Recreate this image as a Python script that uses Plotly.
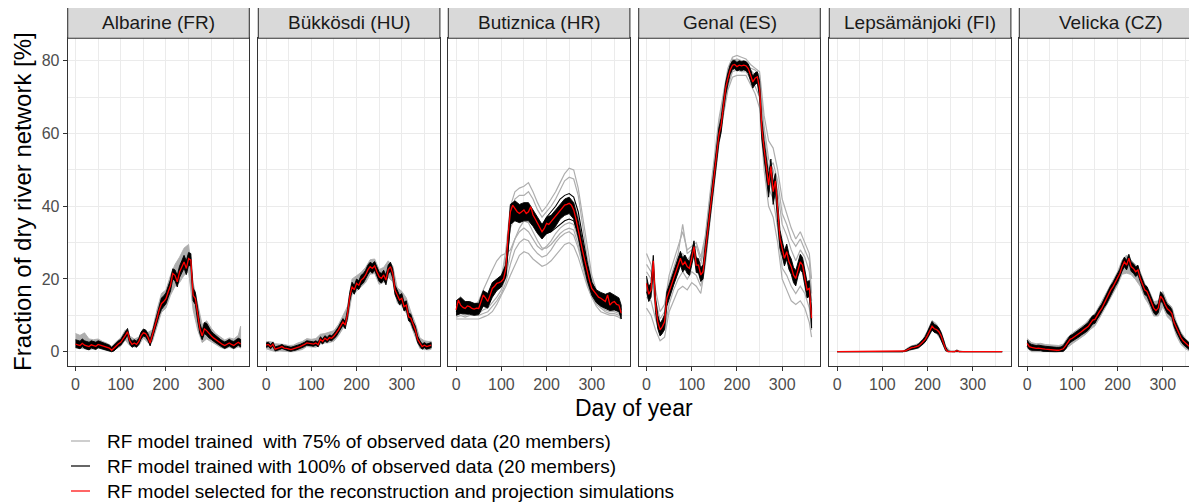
import plotly.graph_objects as go

# The page body adds an 8 px margin; the figure is sized and laid out so that
# the visible page matches the 1197x503 reference.
PAGE_W, PAGE_H = 1197, 503
OFF = 8
W, H = PAGE_W - OFF, PAGE_H - OFF
FONT = "Liberation Sans, Arial, Helvetica, sans-serif"

# ---------------- data ----------------
RIVERS = ["Albarine (FR)", "Bükkösdi (HU)", "Butiznica (HR)",
          "Genal (ES)", "Lepsämänjoki (FI)", "Velicka (CZ)"]
X_TICKS = [0, 100, 200, 300]
X_MINOR = [50, 150, 250, 350]
Y_TICKS = [0, 20, 40, 60, 80]
Y_MINOR = [10, 30, 50, 70]
LEGEND_LABELS = [
    "RF model trained  with 75% of observed data (20 members)",
    "RF model trained with 100% of observed data (20 members)",
    "RF model selected for the reconstruction and projection simulations",
]
X_TITLE = "Day of year"
Y_TITLE = "Fraction of dry river network [%]"

DAYS5 = list(range(0, 361, 5)) + [365]
DAYS10 = list(range(0, 361, 10)) + [365]

# ---- Albarine ----
ALB_RED = [2.1, 1.9, 1.7, 2.3, 1.8, 1.6, 1.4, 1.9, 1.7, 1.5,
           2.0, 1.8, 1.5, 1.3, 1.2, 1.0, 0.4, 1.0, 1.7, 2.2,
           2.6, 3.4, 4.4, 5.5, 3.0, 2.0, 2.4, 2.0, 2.8, 4.4,
           5.2, 5.0, 4.0, 2.4, 4.4, 6.8, 9.0, 11.5, 13.2, 13.8,
           14.6, 16.5, 18.2, 21.5, 21.0, 19.2, 21.9, 23.3, 24.7, 22.9,
           25.6, 25.2, 15.5, 14.6, 10.0, 6.3, 4.4, 6.3, 5.8, 5.0,
           4.4, 3.8, 3.3, 2.8, 2.4, 2.0, 1.7, 2.0, 2.4, 2.0,
           1.7, 2.2, 2.6, 2.1]
ALB_BLK_HI = [3.3, 3.1, 2.9, 3.5, 3.0, 2.8, 2.6, 3.0, 2.8, 2.6,
              3.0, 2.8, 2.4, 2.2, 2.0, 1.8, 1.2, 1.8, 2.5, 3.0,
              3.4, 4.3, 5.4, 6.4, 3.9, 2.9, 3.3, 2.9, 3.7, 5.4,
              6.2, 6.0, 5.0, 3.4, 5.5, 8.0, 10.4, 13.0, 14.8, 15.3,
              16.2, 18.0, 19.8, 22.8, 22.5, 21.0, 23.5, 25.0, 26.5, 25.0,
              27.3, 27.0, 17.5, 16.3, 11.8, 7.8, 5.8, 8.0, 7.8, 6.5,
              5.6, 5.0, 4.4, 3.9, 3.4, 3.0, 2.7, 3.0, 3.4, 3.0,
              2.8, 3.3, 3.7, 3.4]
ALB_BLK_LO = [1.2, 1.0, 0.8, 1.4, 0.9, 0.7, 0.5, 1.0, 0.8, 0.6,
              1.1, 0.9, 0.6, 0.4, 0.3, 0.2, 0.0, 0.2, 0.9, 1.4,
              1.8, 2.6, 3.5, 4.6, 2.1, 1.2, 1.6, 1.2, 2.0, 3.5,
              4.3, 4.1, 3.1, 1.6, 3.4, 5.6, 7.8, 10.0, 11.6, 12.4,
              13.2, 15.0, 16.7, 20.0, 19.5, 17.8, 20.4, 21.8, 23.0, 21.2,
              23.8, 23.5, 14.0, 13.0, 8.5, 5.0, 3.3, 5.0, 4.5, 3.8,
              3.4, 2.9, 2.4, 1.9, 1.6, 1.2, 0.9, 1.2, 1.6, 1.2,
              0.9, 1.4, 1.8, 1.3]
ALB_GRY_HI = [5.0, 4.5, 5.2, 3.5, 3.3, 3.5, 2.8, 2.3, 1.5, 2.8, 3.8, 6.0, 4.3,
              3.5, 4.0, 6.3, 5.3, 6.0, 11.5, 16.0, 17.0, 21.0, 24.0, 26.0,
              28.5, 29.5, 19.0, 13.5, 7.5, 8.5, 6.5, 5.0, 4.0, 3.2, 3.8, 3.5,
              4.5, 7.0]
ALB_GRY_LO = [1.0, 0.8, 0.8, 0.6, 0.8, 1.0, 0.6, 0.3, 0.0, 0.8, 1.5, 3.2, 1.7,
              1.3, 1.7, 3.8, 2.5, 2.8, 6.8, 10.8, 12.0, 15.5, 18.0, 19.0,
              21.0, 22.0, 11.5, 6.0, 2.5, 3.5, 2.8, 2.0, 1.2, 0.8, 1.2, 0.8,
              1.3, 1.0]

# ---- Bükkösdi ----
BUK_RED = [1.8, 2.0, 1.4, 2.1, 0.7, 0.8, 1.1, 1.4, 1.0, 0.9,
           0.7, 0.6, 0.8, 0.9, 1.2, 1.4, 1.6, 2.0, 2.4, 2.3,
           2.2, 2.1, 2.4, 1.9, 3.4, 2.8, 3.7, 3.2, 3.9, 3.7,
           4.3, 5.0, 6.0, 7.1, 8.2, 7.3, 10.5, 15.1, 17.9, 17.0,
           18.8, 18.3, 19.7, 20.2, 21.1, 22.5, 23.4, 22.9, 23.6, 22.0,
           20.6, 20.2, 21.1, 19.7, 22.6, 23.4, 21.5, 17.0, 15.6, 14.2,
           14.7, 12.4, 12.8, 9.6, 9.2, 7.3, 6.0, 3.4, 2.3, 1.4,
           1.8, 1.4, 1.6, 1.8]
BUK_BLK_HI = [2.4, 2.6, 2.0, 2.7, 1.3, 1.4, 1.7, 2.0, 1.6, 1.5,
              1.3, 1.2, 1.4, 1.5, 1.8, 2.0, 2.2, 2.6, 3.0, 2.9,
              2.8, 2.7, 3.0, 2.6, 4.1, 3.5, 4.4, 3.9, 4.6, 4.4,
              5.0, 5.8, 6.8, 8.0, 9.1, 8.3, 11.6, 16.3, 19.1, 18.2,
              20.0, 19.5, 21.0, 21.5, 22.4, 23.8, 24.6, 24.2, 24.8, 23.3,
              21.9, 21.5, 22.4, 21.0, 23.8, 24.6, 22.8, 18.3, 16.9, 15.5,
              16.0, 13.6, 14.0, 10.7, 10.3, 8.3, 7.0, 4.3, 3.1, 2.1,
              2.5, 2.1, 2.3, 2.5]
BUK_BLK_LO = [1.2, 1.4, 0.8, 1.5, 0.2, 0.3, 0.6, 0.9, 0.5, 0.4,
              0.2, 0.1, 0.3, 0.4, 0.7, 0.9, 1.1, 1.4, 1.8, 1.7,
              1.6, 1.5, 1.8, 1.3, 2.7, 2.1, 3.0, 2.5, 3.2, 3.0,
              3.6, 4.2, 5.2, 6.2, 7.3, 6.3, 9.4, 13.9, 16.7, 15.8,
              17.6, 17.1, 18.4, 18.9, 19.8, 21.2, 22.2, 21.6, 22.4, 20.7,
              19.3, 18.9, 19.8, 18.4, 21.4, 22.2, 20.2, 15.7, 14.3, 12.9,
              13.4, 11.2, 11.6, 8.5, 8.1, 6.3, 5.0, 2.5, 1.5, 0.7,
              1.1, 0.7, 0.9, 1.1]
BUK_GRY_HI = [2.8, 2.8, 2.2, 2.2, 2.0, 1.7, 1.8, 2.4, 2.8, 3.6, 3.4, 3.6, 4.8,
              5.0, 5.3, 5.8, 7.5, 9.8, 12.5, 20.0, 20.8, 21.8, 23.2, 25.3,
              25.5, 22.6, 23.2, 25.0, 23.6, 17.6, 16.6, 14.8, 11.0, 7.8, 3.8,
              3.0, 2.8, 2.9]
BUK_GRY_LO = [0.8, 0.4, 0.0, 0.2, 0.1, 0.0, 0.0, 0.3, 0.6, 1.4, 1.2, 1.2, 2.1,
              2.4, 2.5, 2.9, 4.4, 6.4, 8.4, 15.7, 16.6, 17.7, 19.0, 21.3,
              21.5, 18.5, 19.1, 20.5, 19.2, 13.4, 12.6, 10.6, 7.2, 4.0, 0.9,
              0.6, 0.5, 0.7]

# ---- Butiznica ----
BUT_RED = [11.5, 14.2, 12.8, 12.2, 11.9, 12.6, 12.4, 11.9, 11.7, 12.0,
           11.9, 13.5, 15.6, 14.8, 13.8, 15.5, 17.4, 18.0, 18.8, 19.0,
           19.3, 20.0, 22.9, 32.1, 38.5, 40.3, 39.4, 38.5, 38.0, 38.5,
           39.0, 38.0, 38.5, 39.9, 37.6, 36.5, 35.3, 34.0, 33.0, 33.9,
           35.3, 35.0, 35.8, 36.5, 37.1, 38.0, 39.0, 39.8, 40.3, 40.5,
           40.8, 40.3, 39.0, 36.5, 33.9, 30.5, 27.5, 24.5, 22.0, 19.5,
           17.4, 16.5, 15.6, 15.0, 14.7, 14.2, 13.8, 15.6, 12.8, 13.5,
           13.8, 13.0, 12.8, 10.6]
BUT_BLK_HI = [14.0, 15.0, 13.8, 13.8, 13.3, 13.3, 16.8, 16.0, 19.0, 20.0,
              21.0, 24.0, 40.5, 41.5, 40.5, 41.0, 41.0, 39.0, 37.0, 35.0,
              37.0, 37.5, 39.0, 40.5, 42.0, 42.5, 41.0, 36.0, 29.5, 24.0,
              19.0, 17.0, 16.3, 15.8, 16.3, 15.5, 14.8, 12.8]
BUT_BLK_LO = [10.0, 10.5, 10.3, 10.3, 10.0, 10.2, 12.5, 12.0, 15.0, 16.8,
              17.8, 20.5, 35.0, 36.0, 35.5, 36.0, 36.0, 34.5, 32.5, 31.0,
              32.5, 33.0, 34.5, 36.5, 37.5, 38.0, 36.5, 31.5, 25.0, 19.5,
              15.5, 13.5, 12.5, 12.0, 11.3, 11.5, 11.0, 9.0]
BUT_BLK_A = [12.5, 13.5, 12.5, 13.0, 12.5, 12.5, 15.5, 14.5, 18.0, 19.5,
             20.5, 23.5, 38.5, 40.0, 39.0, 40.0, 39.5, 38.0, 36.5, 34.5,
             37.0, 38.5, 40.0, 42.0, 43.0, 43.5, 42.5, 38.5, 31.0, 24.5,
             19.0, 16.5, 15.5, 15.0, 14.0, 14.5, 13.5, 11.5]
BUT_BLK_B = [11.0, 12.0, 11.5, 12.0, 11.0, 11.5, 14.0, 13.0, 16.0, 18.0,
             18.5, 21.0, 35.5, 36.5, 36.0, 36.5, 36.5, 35.0, 33.0, 31.5,
             32.5, 33.0, 34.0, 35.0, 36.0, 36.5, 36.0, 32.5, 26.5, 21.0,
             16.5, 14.5, 13.5, 13.0, 12.0, 12.5, 11.5, 10.0]
BUT_GRY_1 = [10, 11, 10.5, 11, 11, 11.5, 13, 13, 15, 17, 20, 28, 40, 44, 45,
             45.5, 46.5, 44, 41, 38.5, 40, 42, 44, 46.5, 49, 50.5, 50, 45, 37,
             28, 21, 17, 15, 14, 13, 13, 12, 11]
BUT_GRY_2 = [10.5, 11.5, 11, 11.5, 11.5, 12, 13.5, 14, 16, 18, 20.5, 26, 37,
             42, 43, 43, 44, 42, 39, 37, 38.5, 40, 42, 44.5, 47, 48, 47.5, 43,
             35, 26, 20, 16.5, 15, 14, 13.5, 13, 12.5, 11]
BUT_GRY_3 = [11, 12, 11.5, 12, 11.5, 12, 14, 14, 16.5, 18, 20, 25, 34, 37, 38,
             38.5, 38, 36, 34, 32, 33, 34.5, 36.5, 38.5, 40, 41.5, 41, 37, 30,
             23, 18, 15.5, 14.5, 13.5, 13, 13, 12.5, 10.5]
BUT_GRY_4 = [11, 11.5, 11, 11.5, 12.5, 14, 17, 20, 22.5, 25, 26.5, 27, 28, 31,
             34, 36, 35.5, 33, 30.5, 28.5, 28.5, 29.5, 31, 32.5, 33.5, 34,
             33.5, 29.5, 24, 19, 15.5, 13.5, 12.5, 12, 11.5, 11.5, 11, 10]
BUT_GRY_5 = [9, 9, 9, 9, 9, 9, 9.5, 10, 11, 13, 15.5, 18, 21, 24, 26.5, 27.5,
             27, 25.5, 24.5, 23.5, 24, 25, 26.5, 28, 29.5, 30, 29, 26, 22, 18,
             15, 12.5, 11, 10.5, 10, 10, 9.5, 9]
BUT_GRY_6 = [9.5, 10, 9.5, 10, 10, 10, 10.5, 11, 12.5, 14, 16, 19, 24, 28, 30,
             31, 30.5, 28.5, 27, 26, 26.5, 28, 30, 31.5, 32.5, 33, 32, 28.5,
             23.5, 18.5, 15, 13, 12, 11, 10.5, 10.5, 10, 9.5]
BUT_GRY_7 = [10, 10.5, 10, 10.5, 10.5, 10.5, 11.5, 12, 13.5, 15, 17, 20.5, 27,
             31, 33, 34, 33, 31, 29, 28, 29, 30.5, 32.5, 34, 35, 35.5, 35, 31,
             25.5, 20, 16, 13.5, 12.5, 11.5, 11, 11, 10.5, 9.5]

# ---- Genal ----
GEN_RED = [18.8, 15.8, 17.0, 25.0, 12.8, 8.2, 6.0, 6.9, 8.2, 14.7,
           16.5, 18.3, 20.2, 22.0, 23.8, 25.7, 23.8, 24.7, 23.4, 22.9,
           25.7, 28.9, 23.8, 23.8, 21.1, 22.0, 27.5, 33.0, 38.5, 44.0,
           49.5, 54.1, 59.6, 62.3, 67.8, 72.4, 75.2, 77.5, 78.8, 79.0,
           78.4, 78.8, 78.6, 78.8, 78.6, 77.9, 76.1, 74.2, 75.2, 75.6,
           72.4, 61.4, 55.9, 51.3, 45.8, 51.0, 44.0, 47.0, 38.5, 31.2,
           28.4, 25.7, 27.5, 24.7, 23.4, 21.1, 20.2, 22.9, 24.7, 23.8,
           20.2, 17.0, 17.4, 9.2]
GEN_BLK_HI = [20.8, 17.8, 19.0, 26.5, 15.0, 10.0, 7.8, 8.8, 10.2, 16.5,
              18.3, 20.2, 22.0, 24.0, 25.8, 27.6, 25.8, 26.6, 25.4, 24.8,
              27.6, 30.5, 25.8, 25.6, 23.0, 24.0, 29.5, 35.0, 40.5, 46.0,
              51.5, 56.0, 61.5, 64.3, 69.6, 74.0, 76.7, 78.9, 80.0, 80.1,
              79.6, 80.0, 79.8, 80.0, 79.8, 79.2, 77.6, 75.8, 76.7, 77.0,
              74.5, 64.0, 58.0, 53.5, 48.5, 53.0, 46.5, 49.0, 41.0, 33.5,
              30.5, 27.8, 29.6, 26.8, 25.5, 23.2, 22.3, 25.0, 26.8, 25.9,
              22.3, 19.2, 19.6, 12.0]
GEN_BLK_LO = [16.5, 13.8, 15.0, 22.5, 10.8, 6.3, 4.3, 5.0, 6.2, 12.5,
              14.6, 16.4, 18.3, 20.2, 21.8, 23.8, 21.9, 22.8, 21.5, 21.0,
              23.8, 26.8, 21.8, 21.6, 19.3, 20.0, 25.5, 31.0, 36.5, 42.0,
              47.5, 52.1, 57.5, 60.3, 65.8, 70.6, 73.6, 76.2, 77.6, 77.8,
              77.2, 77.5, 77.3, 77.5, 77.3, 76.5, 74.5, 72.5, 73.5, 73.9,
              70.0, 58.5, 53.5, 48.5, 42.5, 48.5, 40.5, 44.0, 35.5, 28.5,
              26.3, 23.6, 25.4, 22.6, 21.3, 19.0, 18.1, 20.8, 22.6, 21.7,
              18.1, 14.8, 15.2, 6.5]
GEN_GRY_1 = [27, 24, 17, 11, 13, 21, 25, 29, 33, 28, 29, 30, 26, 32, 43, 54,
             64, 71, 78, 81, 81.5, 81, 80.5, 79, 78, 77, 65, 58, 56, 50, 42, 38,
             34, 31, 33, 30, 27, 20]
GEN_GRY_2 = [12, 10, 6, 3, 4, 11, 14, 17, 18, 17, 19, 18, 16, 24, 35.5, 47,
             57, 65, 72, 75.5, 76, 76, 76, 73.5, 71, 67, 50, 40, 37, 30, 20, 17,
             14, 13, 14, 12, 8, 4]
GEN_GRY_3 = [22, 20, 13, 7, 9, 18, 22, 26, 27, 25, 27, 26, 24, 30, 41, 51, 61,
             69.5, 77, 80.5, 80, 80, 79.5, 77.5, 76, 75, 62, 53, 50, 44, 35, 32,
             28, 25, 28, 26, 22, 14]
GEN_GRY_4 = [15, 14, 9, 5, 6, 13, 17, 20, 22, 20, 22, 21, 18, 25, 36.5, 48,
             58, 66, 73, 77, 77.5, 77, 77, 75, 73, 70, 55, 45, 42, 34, 23, 21,
             18, 16, 18, 16, 12, 6]
GEN_GRY_5 = [24, 22, 14, 9, 11, 19, 23, 27, 35, 27, 28, 29, 25, 31, 42, 52.5,
             62.5, 70, 77, 80, 80.5, 80, 79, 78, 77.5, 76, 60, 50, 52, 47, 38,
             35, 31, 29, 31, 28, 25, 16]

# ---- Lepsämänjoki ----
LEP_RED = [0.0] * 30 + [
    0.2, 0.5, 0.9, 1.1, 1.2, 1.3, 1.6, 2.1, 2.7, 3.4,
    4.5, 5.8, 7.0, 6.3, 6.1, 5.5, 4.3, 2.5, 0.7, 0.0,
    0.0, 0.0, 0.0, 0.3, 0.0, 0.0, 0.0, 0.0, 0.0, 0.0] + [0.0] * 14
LEP_BLK_HI = [0.0] * 30 + [
    0.4, 0.8, 1.3, 1.5, 1.6, 1.7, 2.1, 2.7, 3.4, 4.2,
    5.5, 7.0, 8.3, 7.5, 7.2, 6.5, 5.2, 3.4, 1.3, 0.2,
    0.0, 0.0, 0.0, 0.5, 0.0, 0.0, 0.0, 0.0, 0.0, 0.0] + [0.0] * 14
LEP_BLK_LO = [0.0] * 30 + [
    0.0, 0.2, 0.5, 0.8, 0.8, 0.9, 1.1, 1.6, 2.1, 2.7,
    3.7, 4.8, 6.0, 5.3, 5.1, 4.6, 3.5, 1.8, 0.3, 0.0,
    0.0, 0.0, 0.0, 0.0, 0.0, 0.0, 0.0, 0.0, 0.0, 0.0] + [0.0] * 14
LEP_GRY_HI = [0.0] * 15 + [0.5, 1.4, 1.8, 2.3, 3.5, 5.8, 8.6, 7.6, 5.5, 1.6,
                           0.2, 0.2, 0.3] + [0.0] * 10
LEP_GRY_LO = [0.0] * 15 + [0.0, 0.3, 0.7, 1.0, 2.0, 3.5, 5.8, 5.0, 3.2, 0.1,
                           0.0, 0.0, 0.0] + [0.0] * 10

# ---- Velicka ----
VEL_RED = [2.3, 1.4, 1.2, 1.0, 0.9, 1.0, 1.0, 0.8, 0.7, 0.6,
           0.6, 0.5, 0.5, 0.4, 0.4, 0.5, 0.8, 1.6, 2.7, 3.4,
           3.7, 4.1, 4.6, 5.0, 5.5, 6.0, 6.4, 6.9, 7.8, 8.7,
           8.9, 10.1, 11.0, 11.9, 13.3, 14.2, 15.6, 17.0, 17.9, 19.2,
           20.2, 21.5, 23.4, 24.7, 23.8, 25.7, 23.4, 22.9, 22.0, 22.5,
           20.2, 18.8, 17.0, 16.6, 15.0, 13.5, 12.0, 11.3, 12.0, 15.3,
           14.5, 13.0, 11.8, 11.3, 10.5, 8.0, 6.5, 5.0, 3.9, 3.0,
           2.4, 1.8, 1.3, 1.0]
VEL_BLK_HI = [3.2, 2.3, 2.0, 1.8, 1.7, 1.8, 1.8, 1.6, 1.5, 1.4,
              1.4, 1.3, 1.3, 1.2, 1.2, 1.3, 1.7, 2.6, 3.7, 4.4,
              4.7, 5.1, 5.6, 6.0, 6.5, 7.0, 7.5, 8.0, 9.0, 9.9,
              10.1, 11.3, 12.2, 13.1, 14.5, 15.4, 16.8, 18.2, 19.1, 20.4,
              21.4, 22.7, 24.6, 26.0, 25.1, 26.8, 24.7, 24.2, 23.3, 23.8,
              21.5, 20.1, 18.3, 17.9, 16.3, 14.8, 13.3, 12.6, 13.3, 16.5,
              15.7, 14.2, 13.0, 12.5, 11.6, 9.1, 7.6, 6.0, 4.9, 4.0,
              3.3, 2.7, 2.2, 1.9]
VEL_BLK_LO = [1.5, 0.6, 0.4, 0.3, 0.2, 0.3, 0.3, 0.1, 0.0, 0.0,
              0.0, 0.0, 0.0, 0.0, 0.0, 0.0, 0.1, 0.7, 1.8, 2.5,
              2.8, 3.2, 3.7, 4.1, 4.6, 5.1, 5.4, 5.9, 6.7, 7.6,
              7.8, 9.0, 9.9, 10.8, 12.1, 13.0, 14.4, 15.8, 16.7, 18.0,
              19.0, 20.3, 22.2, 23.4, 22.5, 24.4, 22.1, 21.6, 20.7, 21.2,
              18.9, 17.5, 15.7, 15.3, 13.7, 12.2, 10.7, 10.0, 10.7, 14.0,
              13.3, 11.8, 10.6, 10.1, 9.4, 6.9, 5.4, 4.0, 2.9, 2.0,
              1.5, 0.9, 0.4, 0.2]
VEL_GRY_HI = [3.6, 2.5, 2.2, 2.3, 2.0, 1.9, 1.8, 1.7, 2.1, 4.0, 5.1, 6.0, 6.9,
              7.9, 9.4, 10.5, 12.7, 15.0, 17.4, 19.7, 22.0, 25.2, 26.6, 25.2,
              23.9, 22.0, 18.8, 16.8, 13.8, 14.0, 16.6, 13.6, 12.3, 8.2, 5.4,
              3.6, 2.4, 1.9]
VEL_GRY_LO = [1.0, 0.0, 0.0, 0.0, 0.0, 0.0, 0.0, 0.0, 0.0, 1.2, 2.2, 3.1, 4.0,
              4.8, 6.1, 7.1, 9.2, 11.4, 13.6, 16.0, 18.3, 21.3, 21.6, 21.2,
              19.8, 18.0, 14.8, 12.8, 9.8, 9.8, 12.4, 9.6, 8.3, 4.4, 2.0, 0.8,
              0.1, 0.0]

# per-panel assembly of the arrays above
PANELS = [
    dict(red=ALB_RED, blk=(DAYS5, ALB_BLK_LO, ALB_BLK_HI),
         gry_band=(DAYS10, ALB_GRY_LO, ALB_GRY_HI), gry_lines=[], blk_lines=[]),
    dict(red=BUK_RED, blk=(DAYS5, BUK_BLK_LO, BUK_BLK_HI),
         gry_band=(DAYS10, BUK_GRY_LO, BUK_GRY_HI), gry_lines=[], blk_lines=[]),
    dict(red=BUT_RED, blk=(DAYS10, BUT_BLK_LO, BUT_BLK_HI), gry_band=None,
         gry_lines=[BUT_GRY_1, BUT_GRY_2, BUT_GRY_3, BUT_GRY_4, BUT_GRY_5,
                    BUT_GRY_6, BUT_GRY_7],
         blk_lines=[BUT_BLK_A, BUT_BLK_B]),
    dict(red=GEN_RED, blk=(DAYS5, GEN_BLK_LO, GEN_BLK_HI), gry_band=None,
         gry_lines=[GEN_GRY_1, GEN_GRY_2, GEN_GRY_3, GEN_GRY_4, GEN_GRY_5],
         blk_lines=[]),
    dict(red=LEP_RED, blk=(DAYS5, LEP_BLK_LO, LEP_BLK_HI),
         gry_band=(DAYS10, LEP_GRY_LO, LEP_GRY_HI), gry_lines=[], blk_lines=[]),
    dict(red=VEL_RED, blk=(DAYS5, VEL_BLK_LO, VEL_BLK_HI),
         gry_band=(DAYS10, VEL_GRY_LO, VEL_GRY_HI), gry_lines=[], blk_lines=[]),
]

# ---------------- styling / layout (page pixel coordinates) ----------------
GRAY = "#AEAEAE"
BLACK = "#000000"
RED = "#FF0000"
BORDER = "#333333"
GRID = "#EBEBEB"

PANEL_LEFT = [67.7, 258.3, 448.3, 638.7, 829.3, 1019.3]
PANEL_W = 181.6
PLOT_TOP, PLOT_BOT = 38.3, 365.7
STRIP_TOP = 6.0
X_RANGE = [-17.25, 384.25]
Y_RANGE = [-3.85, 86.2]
PX_PER_DAY = PANEL_W / (X_RANGE[1] - X_RANGE[0])


def fx(px):
    return (px - OFF) / W


def fy(py):
    return 1 - (py - OFF) / H


fig = go.Figure()


def band(x, lo, hi, color, xa, ya):
    xs = list(x) + list(x)[::-1]
    ys = list(hi) + list(lo)[::-1]
    fig.add_trace(go.Scatter(x=xs, y=ys, mode="lines", fill="toself",
                             fillcolor=color, line=dict(color=color, width=0.9),
                             xaxis=xa, yaxis=ya, hoverinfo="skip",
                             showlegend=False))


def line(x, y, color, width, xa, ya):
    fig.add_trace(go.Scatter(x=x, y=y, mode="lines",
                             line=dict(color=color, width=width),
                             xaxis=xa, yaxis=ya, hoverinfo="skip",
                             showlegend=False))


shapes = []
annotations = []
layout_axes = {}

for i, (name, p) in enumerate(zip(RIVERS, PANELS)):
    n = "" if i == 0 else str(i + 1)
    xa, ya = "x" + n, "y" + n
    # gray members (75% training)
    if p["gry_band"] is not None:
        band(*p["gry_band"], GRAY, xa, ya)
    for g in p["gry_lines"]:
        line(DAYS10, g, GRAY, 1.2, xa, ya)
    # black members (100% training)
    band(*p["blk"], BLACK, xa, ya)
    for b in p["blk_lines"]:
        line(DAYS10, b, BLACK, 1.1, xa, ya)
    # selected model
    line(DAYS5, p["red"], RED, 1.3, xa, ya)

    left = PANEL_LEFT[i]
    right_full = left + PANEL_W
    right = min(right_full, PAGE_W)
    xmax = X_RANGE[0] + (right - left) / PX_PER_DAY
    last = right_full > PAGE_W

    layout_axes["xaxis" + n] = dict(
        domain=[fx(left), min(fx(right), 1.0)], range=[X_RANGE[0], xmax],
        anchor=ya, tickmode="array", tickvals=X_TICKS,
        ticktext=[str(v) for v in X_TICKS],
        ticks="outside", ticklen=4, tickwidth=1.07, tickcolor=BORDER,
        tickfont=dict(family=FONT, size=16, color="#4D4D4D"),
        showgrid=True, gridcolor=GRID, gridwidth=1.07,
        minor=dict(tickvals=X_MINOR, showgrid=True, gridcolor=GRID,
                   gridwidth=0.55, ticks=""),
        zeroline=False, showline=True, mirror=True, linecolor=BORDER,
        linewidth=1.07, fixedrange=True)
    layout_axes["yaxis" + n] = dict(
        domain=[fy(PLOT_BOT), fy(PLOT_TOP)], range=Y_RANGE, anchor=xa,
        tickmode="array", tickvals=Y_TICKS,
        ticktext=[str(v) for v in Y_TICKS],
        ticks="outside" if i == 0 else "", ticklen=4, tickwidth=1.07,
        tickcolor=BORDER, showticklabels=(i == 0),
        tickfont=dict(family=FONT, size=16, color="#4D4D4D"),
        showgrid=True, gridcolor=GRID, gridwidth=1.07,
        minor=dict(tickvals=Y_MINOR, showgrid=True, gridcolor=GRID,
                   gridwidth=0.55, ticks=""),
        zeroline=False, showline=True, mirror=(not last), linecolor=BORDER,
        linewidth=1.07, fixedrange=True)

    # strip
    shapes.append(dict(type="rect", xref="paper", yref="paper",
                       x0=fx(left), x1=fx(right_full),
                       y0=fy(PLOT_TOP), y1=fy(STRIP_TOP),
                       fillcolor="#D9D9D9", line=dict(color=BORDER, width=1.07),
                       layer="above"))
    annotations.append(dict(text=name, xref="paper", yref="paper",
                            x=fx(left + PANEL_W / 2),
                            y=fy((STRIP_TOP + PLOT_TOP) / 2),
                            xanchor="center", yanchor="middle", showarrow=False,
                            font=dict(family=FONT, size=19, color="#1A1A1A")))

# axis titles
annotations.append(dict(text=X_TITLE, xref="paper", yref="paper",
                        x=fx((PANEL_LEFT[0] + PANEL_LEFT[-1] + PANEL_W) / 2),
                        y=fy(408), xanchor="center", yanchor="middle",
                        showarrow=False,
                        font=dict(family=FONT, size=23, color="#000000")))
annotations.append(dict(text=Y_TITLE, xref="paper", yref="paper",
                        x=fx(22), y=fy((PLOT_TOP + PLOT_BOT) / 2),
                        xanchor="center", yanchor="middle", textangle=-90,
                        showarrow=False,
                        font=dict(family=FONT, size=24, color="#000000")))

# legend (bottom-left)
LEG_Y = [441, 466, 491]
for lab, col, yy in zip(LEGEND_LABELS, [GRAY, BLACK, RED], LEG_Y):
    shapes.append(dict(type="line", xref="paper", yref="paper",
                       x0=fx(71), x1=fx(90), y0=fy(yy), y1=fy(yy),
                       line=dict(color=col, width=1.2)))
    annotations.append(dict(text=lab, xref="paper", yref="paper",
                            x=fx(105), y=fy(yy), xanchor="left",
                            yanchor="middle", showarrow=False,
                            font=dict(family=FONT, size=19, color="#000000")))

fig.update_layout(
    width=W, height=H, margin=dict(l=0, r=0, t=0, b=0, pad=0),
    paper_bgcolor="white", plot_bgcolor="white", showlegend=False,
    shapes=shapes, annotations=annotations, font=dict(family=FONT),
    **layout_axes)

fig.write_html("out.html", include_plotlyjs=True,
               config={"displayModeBar": False})
